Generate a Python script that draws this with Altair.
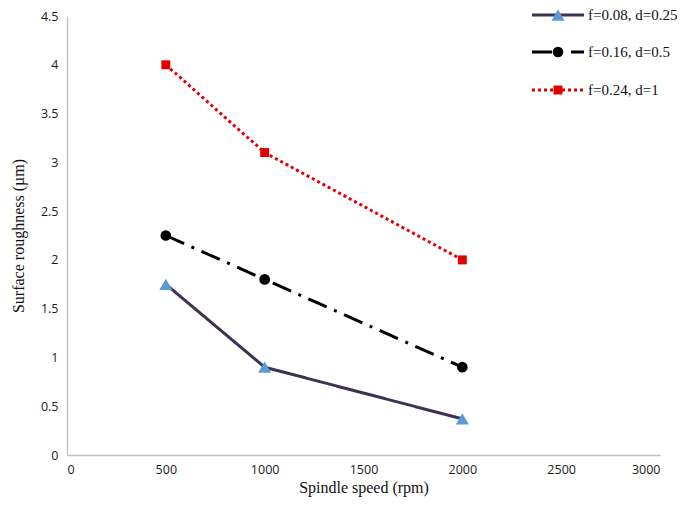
import altair as alt
import pandas as pd

speeds = [500, 1000, 2000]
s1_vals = [1.75, 0.9, 0.37]
s2_vals = [2.25, 1.8, 0.9]
s3_vals = [4.0, 3.1, 2.0]
labels = ["f=0.08, d=0.25", "f=0.16, d=0.5", "f=0.24, d=1"]

x_ticks = [0, 500, 1000, 1500, 2000, 2500, 3000]
y_ticks = [0, 0.5, 1, 1.5, 2, 2.5, 3, 3.5, 4, 4.5]

W, H = 593, 439

def frame(vals):
    return pd.DataFrame({"speed": speeds, "ra": vals})

xs = alt.Scale(domain=[0, 3000], nice=False)
ys = alt.Scale(domain=[0, 4.5], nice=False)

xaxis = alt.Axis(values=x_ticks, title="Spindle speed (rpm)", grid=False, ticks=False,
                 domainColor="#BFBFBF", domainWidth=1.3, labelFont="Open Sans",
                 labelFontSize=12.5, labelColor="#1a1a1a", labelPadding=8, format="d",
                 titleFont="Liberation Serif", titleFontSize=16, titleFontWeight="normal",
                 titleColor="#111111", titlePadding=4)
yaxis = alt.Axis(values=y_ticks, title="Surface roughness (µm)", grid=False, ticks=False,
                 domainColor="#BFBFBF", domainWidth=1.3, labelFont="Open Sans",
                 labelFontSize=12.5, labelColor="#1a1a1a", labelPadding=9,
                 titleFont="Liberation Serif", titleFontSize=16, titleFontWeight="normal",
                 titleColor="#111111", titlePadding=14, format="~g")

styles = [
    dict(color="#3F3151", dash=[1, 0], mcolor="#5B9BD5", shape="triangle-up", size=170),
    dict(color="#000000", dash=[20, 8, 3, 8], mcolor="#000000", shape="circle", size=115),
    dict(color="#E00000", dash=[3, 3], mcolor="#E00000", shape="square", size=80),
]

layers = []
for i, vals in enumerate([s1_vals, s2_vals, s3_vals]):
    st = styles[i]
    df = frame(vals)
    base = alt.Chart(df).encode(
        x=alt.X("speed:Q", scale=xs, axis=xaxis),
        y=alt.Y("ra:Q", scale=ys, axis=yaxis),
    )
    layers.append(base.mark_line(color=st["color"], strokeWidth=3, strokeDash=st["dash"]))
    layers.append(base.mark_point(shape=st["shape"], filled=True, color=st["mcolor"],
                                  size=st["size"], opacity=1))

# legend
leg_y = [-1, 36, 74]
one = pd.DataFrame({"k": [0]})
for i in range(3):
    st = styles[i]
    layers.append(alt.Chart(one).mark_rule(color=st["color"], strokeWidth=3, strokeDash=st["dash"]).encode(
        x=alt.value(465), x2=alt.value(517), y=alt.value(leg_y[i])))
    layers.append(alt.Chart(one).mark_point(shape=st["shape"], filled=True, color=st["mcolor"],
                                            size=st["size"], opacity=1).encode(
        x=alt.value(491), y=alt.value(leg_y[i])))
    layers.append(alt.Chart(pd.DataFrame({"t": [labels[i]]})).mark_text(
        align="left", baseline="middle", font="Liberation Serif", fontSize=15, color="#111111").encode(
        x=alt.value(521), y=alt.value(leg_y[i]), text="t:N"))

chart = alt.layer(*layers).properties(
    width=W, height=H,
    autosize=alt.AutoSizeParams(type="none"),
    padding={"left": 59, "top": 8, "right": 17, "bottom": 42},
).configure(background="white").configure_view(stroke=None)

chart.save("out.html", embed_options={"renderer": "svg", "actions": False})
